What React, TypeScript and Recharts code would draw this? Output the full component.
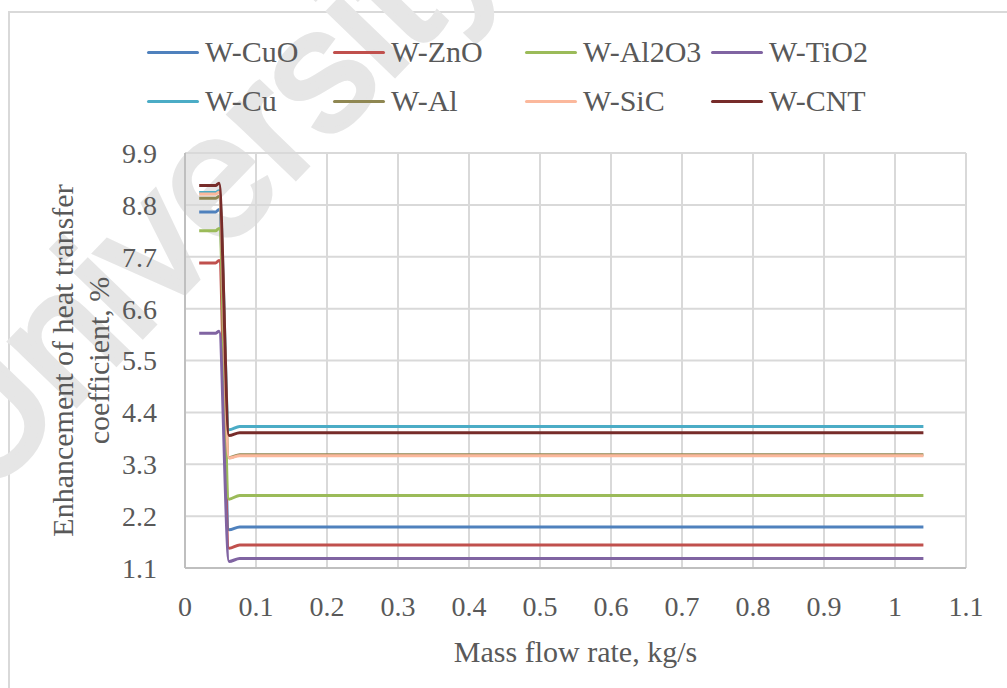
import React from "react"
import { LineChart, Line, XAxis, YAxis, CartesianGrid, Legend } from "recharts"

// mass flow rate, kg/s
const massFlow = [0.02, 0.043, 0.048, 0.062, 0.077, 1.04]

const seriesNames = ["W-CuO", "W-ZnO", "W-Al2O3", "W-TiO2", "W-Cu", "W-Al", "W-SiC", "W-CNT"]
const seriesColors = ["#4f81bd", "#c0504d", "#9bbb59", "#8064a2", "#4bacc6", "#8f8752", "#fbb89c", "#772c2a"]

// enhancement of heat transfer coefficient, %
const wCuO = [8.65, 8.65, 8.7, 1.91, 1.97, 1.97]
const wZnO = [7.57, 7.57, 7.62, 1.52, 1.59, 1.59]
const wAl2O3 = [8.25, 8.25, 8.3, 2.56, 2.64, 2.64]
const wTiO2 = [6.08, 6.08, 6.12, 1.24, 1.3, 1.3]
const wCu = [9.06, 9.06, 9.1, 4.03, 4.1, 4.1]
const wAl = [8.94, 8.94, 8.98, 3.44, 3.5, 3.5]
const wSiC = [9.03, 9.03, 9.07, 3.43, 3.48, 3.48]
const wCNT = [9.21, 9.21, 9.26, 3.91, 3.97, 3.97]

const seriesValues = [wCuO, wZnO, wAl2O3, wTiO2, wCu, wAl, wSiC, wCNT]

const xTicks = [0, 0.1, 0.2, 0.3, 0.4, 0.5, 0.6, 0.7, 0.8, 0.9, 1, 1.1]
const yTicks = [1.1, 2.2, 3.3, 4.4, 5.5, 6.6, 7.7, 8.8, 9.9]

const data = massFlow.map((x, i) => {
  const row: Record<string, number> = { x }
  seriesNames.forEach((name, s) => {
    row[name] = seriesValues[s][i]
  })
  return row
})

const FONT = "'Liberation Serif', 'DejaVu Serif', serif"
const TEXT = "#595959"

const legendCols = [147, 333, 525, 711]
const legendRows = [52, 101]

const LegendBox = ({ payload }: any) => {
  const items = [...(payload || [])].sort(
    (a: any, b: any) => seriesNames.indexOf(a.value) - seriesNames.indexOf(b.value)
  )
  return (
    <div style={{ position: "relative", width: 1007, height: 130 }}>
      {items.map((entry: any, i: number) => (
        <div
          key={entry.value}
          style={{
            position: "absolute",
            left: legendCols[i % 4],
            top: legendRows[Math.floor(i / 4)] - 18,
            height: 36,
            display: "flex",
            alignItems: "center",
            fontFamily: FONT,
            fontSize: 30,
            color: TEXT,
            whiteSpace: "nowrap",
          }}
        >
          <span style={{ display: "inline-block", width: 52, height: 3, background: entry.color, marginRight: 6, borderRadius: 2 }} />
          {entry.value}
        </div>
      ))}
    </div>
  )
}

const YTitle = ({ viewBox }: any) => {
  const cy = viewBox.y + viewBox.height / 2
  return (
    <g fill={TEXT} fontFamily={FONT} fontSize={30}>
      <text x={62} y={cy} textAnchor="middle" dominantBaseline="central" transform={`rotate(-90, 62, ${cy})`}>
        Enhancement of heat transfer
      </text>
      <text x={98} y={cy} textAnchor="middle" dominantBaseline="central" transform={`rotate(-90, 98, ${cy})`}>
        coefficient, %
      </text>
    </g>
  )
}

const XTitle = ({ viewBox }: any) => (
  <text
    x={viewBox.x + viewBox.width / 2}
    y={viewBox.y + 83}
    textAnchor="middle"
    dominantBaseline="central"
    fill={TEXT}
    fontFamily={FONT}
    fontSize={30}
  >
    Mass flow rate, kg/s
  </text>
)

export default function App() {
  return (
    <div style={{ position: "absolute", left: 0, top: 0, width: 1007, height: 688, background: "#fff", overflow: "hidden" }}>
      <div style={{ position: "absolute", left: 8, top: 11, width: 1100, height: 800, border: "2px solid #d9d9d9" }} />
      <svg width={1007} height={688} style={{ position: "absolute", left: 0, top: 0 }}>
        <text
          x={-18}
          y={502}
          fontFamily="'Liberation Sans', Arial, sans-serif"
          fontSize={172}
          fill="#e6e6e6"
          stroke="#e6e6e6"
          strokeWidth={6}
          transform="rotate(-46, -18, 502)"
        >
          University
        </text>
      </svg>
      <div style={{ position: "absolute", left: 0, top: 0 }}>
        <LineChart width={1007} height={688} data={data} margin={{ top: 153, right: 41, bottom: 0, left: 0 }}>
          <CartesianGrid stroke="#d9d9d9" strokeWidth={2} />
          <XAxis
            dataKey="x"
            type="number"
            domain={[0, 1.1]}
            ticks={xTicks}
            tickFormatter={(v: number) => String(v)}
            height={120}
            tickLine={false}
            tickSize={0}
            tickMargin={28}
            axisLine={{ stroke: "#bfbfbf", strokeWidth: 2 }}
            tick={{ fill: TEXT, fontSize: 28, fontFamily: FONT }}
            interval={0}
            label={<XTitle />}
          />
          <YAxis
            type="number"
            domain={[1.1, 9.9]}
            ticks={yTicks}
            tickFormatter={(v: number) => v.toFixed(1)}
            width={185}
            tickLine={false}
            tickSize={0}
            tickMargin={28}
            axisLine={{ stroke: "#bfbfbf", strokeWidth: 2 }}
            tick={{ fill: TEXT, fontSize: 28, fontFamily: FONT }}
            interval={0}
            allowDataOverflow
            label={<YTitle />}
          />
          <Legend
            layout="horizontal"
            verticalAlign="middle"
            align="center"
            wrapperStyle={{ top: 0, left: 0, width: 1007, height: 130 }}
            content={<LegendBox />}
          />
          {seriesNames.map((name, i) => (
            <Line
              key={name}
              type="monotone"
              dataKey={name}
              name={name}
              stroke={seriesColors[i]}
              strokeWidth={3}
              dot={false}
              activeDot={false}
              isAnimationActive={false}
            />
          ))}
        </LineChart>
      </div>
    </div>
  )
}
